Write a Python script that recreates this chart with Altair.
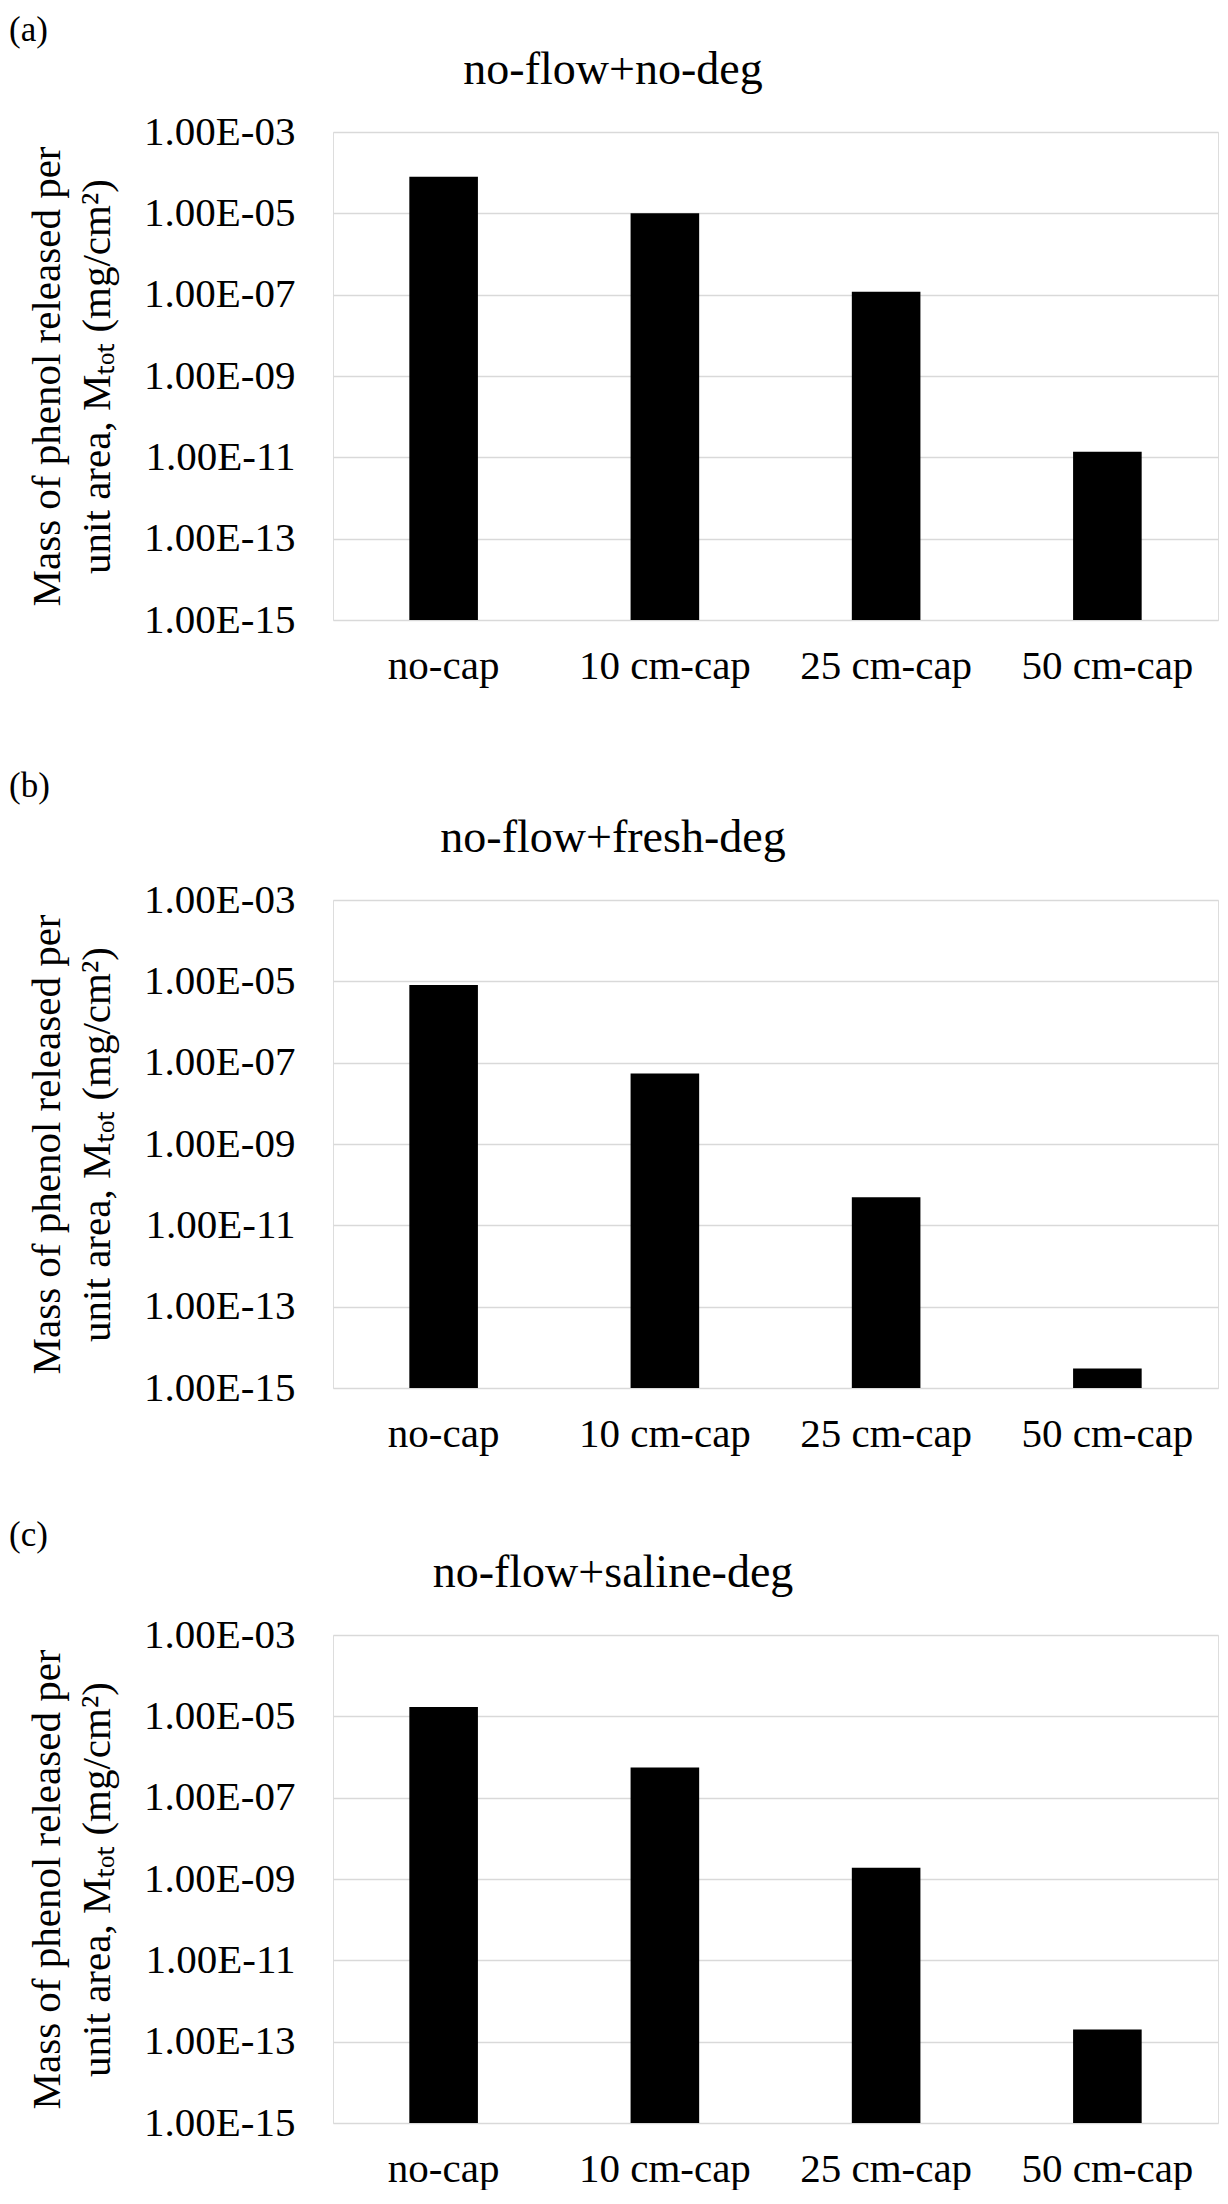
import altair as alt
import pandas as pd

# ---- data ----
categories = ["no-cap", "10 cm-cap", "25 cm-cap", "50 cm-cap"]
panel_letters = ["(a)", "(b)", "(c)"]
panel_titles = ["no-flow+no-deg", "no-flow+fresh-deg", "no-flow+saline-deg"]
mass_no_deg = [7.9e-5, 1.0e-5, 1.18e-7, 1.38e-11]
mass_fresh_deg = [8.1e-6, 5.4e-8, 4.9e-11, 3.0e-15]
mass_saline_deg = [1.7e-5, 5.5e-7, 1.9e-9, 2.0e-13]
tick_values = [1e-3, 1e-5, 1e-7, 1e-9, 1e-11, 1e-13, 1e-15]
y_min, y_max = 1e-15, 1e-3
y_title = ["Mass of phenol released per", "unit area, M\u209c\u2092\u209c (mg/cm\u00b2)"]

# layout (pixels)
FONT = "Liberation Serif"
W, H = 885, 488
letter_offsets = [-91, -103, -89]   # baseline of panel letter above plot top
extra_bottom = [19, 0, 0]           # extra space below a panel

label_expr = ("'1.00E-' + (round(-log(datum.value)/LN10) < 10 ? '0' : '') "
              "+ round(-log(datum.value)/LN10)")


def panel(letter, title, values, letter_y, extra):
    df = pd.DataFrame({"cap": categories, "mass": values,
                       "base": [y_min] * len(categories)})
    bars = alt.Chart(df).mark_bar(color="black").encode(
        x=alt.X("cap:N", sort=categories,
                scale=alt.Scale(paddingInner=0.69, paddingOuter=0.345),
                axis=alt.Axis(title=None, labelAngle=0, labelFont=FONT,
                              labelFontSize=41, labelColor="black",
                              labelPadding=26, ticks=False, tickSize=0,
                              domain=False, grid=False)),
        y=alt.Y("mass:Q",
                scale=alt.Scale(type="log", domain=[y_min, y_max]),
                axis=alt.Axis(values=tick_values, labelExpr=label_expr,
                              labelFont=FONT, labelFontSize=41,
                              labelColor="black", labelPadding=38,
                              ticks=False, tickSize=0, domain=False,
                              grid=True, gridColor="#d9d9d9", gridWidth=1.5,
                              title=y_title, titleFont=FONT,
                              titleFontSize=41, titleFontWeight="normal",
                              titleColor="black", titleLineHeight=50,
                              titlePadding=25)),
        y2="base:Q",
    )
    tdf = pd.DataFrame({"letter": [letter], "title": [title], "blank": ["."]})
    letter_mark = alt.Chart(tdf).mark_text(
        align="left", baseline="alphabetic", font=FONT, fontSize=35,
        color="black").encode(text="letter:N", x=alt.value(-324),
                              y=alt.value(letter_y))
    title_mark = alt.Chart(tdf).mark_text(
        align="center", baseline="alphabetic", font=FONT, fontSize=46,
        color="black").encode(text="title:N", x=alt.value(280),
                              y=alt.value(-48))
    layers = [bars, letter_mark, title_mark]
    if extra > 0:
        spacer = alt.Chart(tdf).mark_text(
            baseline="top", fontSize=41, opacity=0, color="white").encode(
            text="blank:N", x=alt.value(W / 2), y=alt.value(H + 26 + extra))
        layers.append(spacer)
    return alt.layer(*layers).properties(width=W, height=H)


series = [mass_no_deg, mass_fresh_deg, mass_saline_deg]
panels = [panel(l, t, v, ly, ex) for l, t, v, ly, ex in
          zip(panel_letters, panel_titles, series, letter_offsets, extra_bottom)]

chart = alt.vconcat(*panels, spacing=62).properties(
    padding={"left": 0, "top": 4, "right": 0, "bottom": 0}
).configure_view(strokeWidth=0).configure(background="white")

chart.save("out.html", embed_options={"renderer": "svg", "actions": False})
